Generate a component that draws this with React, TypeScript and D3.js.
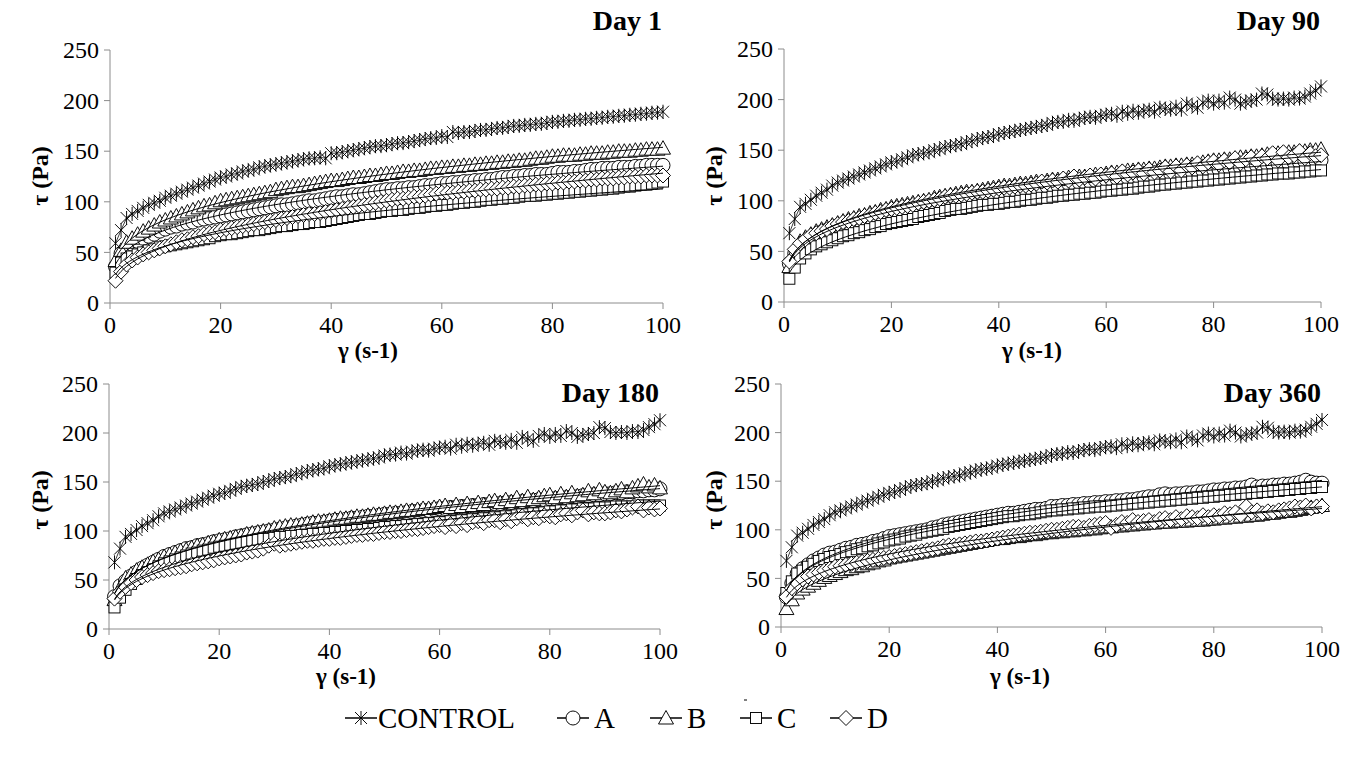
import React from 'react';
import * as d3 from 'd3';

// ---------------- DATA ----------------
const shearRate = [
  1, 2, 3, 4, 5, 6, 7, 8, 9, 10, 11, 12, 13, 14, 15, 16, 17, 18, 19, 20,
  21, 22, 23, 24, 25, 26, 27, 28, 29, 30, 31, 32, 33, 34, 35, 36, 37, 38, 39, 40,
  41, 42, 43, 44, 45, 46, 47, 48, 49, 50, 51, 52, 53, 54, 55, 56, 57, 58, 59, 60,
  61, 62, 63, 64, 65, 66, 67, 68, 69, 70, 71, 72, 73, 74, 75, 76, 77, 78, 79, 80,
  81, 82, 83, 84, 85, 86, 87, 88, 89, 90, 91, 92, 93, 94, 95, 96, 97, 98, 99, 100,
];

const seriesNames = ['CONTROL', 'A', 'B', 'C', 'D'];
const panelTitles = ['Day 1', 'Day 90', 'Day 180', 'Day 360'];
const yTicks = [0, 50, 100, 150, 200, 250];
const xTicks = [0, 20, 40, 60, 80, 100];
const xAxisTitle = 'γ (s-1)';
const yAxisTitle = 'τ (Pa)';

// Day 1
const day1Control = [
  59, 72, 84, 88, 91, 94, 97, 99, 101, 104,
  106, 108, 110, 112, 114, 116, 118, 120, 122, 124,
  125, 127, 128, 130, 131, 132, 134, 135, 136, 137,
  138, 139, 140, 141, 142, 143, 143, 144, 143, 148,
  148, 149, 150, 151, 152, 153, 154, 155, 155, 156,
  157, 158, 158, 159, 160, 161, 162, 163, 163, 165,
  164, 169, 168, 169, 169, 170, 171, 171, 172, 173,
  173, 174, 175, 175, 176, 176, 177, 177, 178, 179,
  179, 180, 180, 181, 181, 182, 182, 183, 183, 184,
  184, 185, 185, 186, 186, 187, 187, 188, 188, 189,
];
const day1A = [
  36, 49, 54, 58, 61, 64, 66, 68, 71, 73,
  75, 76, 78, 79, 80, 82, 83, 84, 85, 86,
  87, 88, 89, 90, 91, 92, 93, 94, 95, 96,
  97, 97, 98, 99, 100, 101, 101, 102, 103, 104,
  105, 105, 106, 107, 107, 108, 109, 110, 111, 112,
  112, 113, 113, 114, 114, 115, 116, 116, 117, 118,
  118, 119, 119, 120, 120, 121, 121, 122, 122, 123,
  124, 124, 125, 125, 126, 126, 127, 127, 127, 128,
  129, 129, 129, 130, 130, 131, 132, 132, 133, 133,
  133, 134, 134, 134, 135, 135, 136, 136, 136, 136,
];
const day1B = [
  42, 52, 60, 64, 68, 71, 74, 77, 80, 82,
  84, 86, 88, 90, 92, 94, 96, 97, 99, 101,
  102, 103, 104, 105, 106, 107, 108, 109, 110, 112,
  113, 114, 115, 115, 116, 117, 118, 119, 120, 121,
  121, 122, 123, 124, 124, 125, 126, 126, 127, 128,
  128, 129, 130, 130, 131, 131, 132, 133, 133, 134,
  134, 135, 135, 136, 136, 137, 137, 138, 138, 139,
  139, 140, 140, 141, 141, 142, 143, 143, 144, 145,
  145, 146, 146, 146, 147, 147, 148, 148, 148, 149,
  149, 150, 150, 150, 151, 151, 152, 152, 152, 153,
];
const day1C = [
  30, 40, 44, 46, 48, 50, 52, 53, 55, 56,
  57, 58, 59, 60, 61, 62, 63, 64, 66, 67,
  68, 68, 69, 70, 71, 72, 72, 73, 74, 75,
  76, 76, 77, 78, 78, 79, 80, 80, 81, 82,
  83, 84, 85, 86, 87, 88, 88, 89, 90, 91,
  91, 92, 92, 93, 94, 94, 95, 96, 96, 97,
  97, 98, 99, 99, 100, 100, 101, 102, 102, 103,
  103, 104, 104, 105, 106, 106, 106, 107, 107, 108,
  108, 109, 109, 110, 110, 111, 111, 112, 112, 113,
  113, 114, 115, 115, 116, 117, 117, 118, 119, 120,
];
const day1D = [
  22, 31, 38, 42, 45, 48, 50, 52, 54, 56,
  58, 60, 62, 63, 65, 66, 68, 69, 70, 72,
  73, 74, 75, 76, 77, 78, 79, 80, 81, 82,
  83, 84, 85, 86, 87, 88, 88, 89, 90, 91,
  92, 93, 94, 95, 96, 97, 98, 99, 100, 101,
  102, 103, 103, 104, 105, 105, 106, 107, 108, 109,
  109, 109, 110, 110, 111, 111, 112, 112, 113, 113,
  114, 114, 115, 115, 116, 116, 117, 117, 118, 118,
  119, 119, 120, 120, 121, 121, 122, 122, 123, 123,
  123, 124, 124, 125, 125, 125, 126, 126, 126, 126,
];

// Control after storage (same curve in Day 90, 180 and 360)
const storedControl = [
  68, 82, 94, 97, 101, 105, 108, 111, 115, 118,
  120, 122, 124, 126, 128, 130, 132, 134, 136, 138,
  139, 141, 143, 145, 146, 147, 148, 150, 151, 153,
  154, 155, 156, 158, 159, 161, 162, 163, 164, 166,
  167, 168, 169, 170, 171, 172, 173, 174, 175, 177,
  178, 178, 180, 179, 181, 182, 183, 182, 184, 185,
  186, 184, 188, 186, 189, 187, 189, 190, 188, 192,
  191, 190, 193, 190, 196, 194, 192, 197, 199, 196,
  199, 197, 202, 200, 196, 198, 199, 200, 206, 205,
  201, 200, 201, 200, 202, 201, 203, 206, 209, 213,
];

// Day 90
const day90A = [
  38, 48, 54, 59, 63, 66, 69, 71, 73, 75,
  76, 78, 79, 81, 82, 84, 85, 86, 88, 89,
  90, 91, 92, 93, 94, 95, 96, 97, 98, 100,
  101, 101, 102, 103, 104, 105, 105, 106, 107, 108,
  109, 109, 110, 111, 111, 112, 113, 113, 114, 115,
  115, 116, 117, 117, 118, 118, 119, 120, 120, 121,
  121, 122, 122, 123, 123, 124, 124, 125, 125, 126,
  126, 127, 127, 128, 128, 129, 129, 130, 130, 131,
  131, 132, 132, 132, 133, 133, 134, 135, 135, 136,
  136, 137, 137, 137, 138, 138, 139, 139, 140, 140,
];
const day90B = [
  35, 50, 60, 64, 67, 70, 72, 74, 76, 78,
  80, 82, 83, 85, 86, 88, 89, 91, 92, 94,
  95, 96, 97, 98, 99, 100, 101, 103, 104, 105,
  106, 107, 108, 109, 109, 110, 111, 112, 113, 114,
  115, 115, 116, 117, 117, 118, 119, 119, 120, 121,
  121, 122, 123, 123, 124, 124, 125, 126, 126, 127,
  128, 128, 129, 130, 130, 131, 131, 132, 132, 133,
  134, 134, 135, 135, 136, 136, 137, 138, 139, 140,
  140, 141, 141, 142, 143, 143, 144, 144, 145, 146,
  146, 147, 147, 148, 148, 149, 149, 150, 150, 151,
];
const day90C = [
  23, 34, 43, 48, 52, 55, 57, 59, 61, 63,
  65, 66, 68, 69, 71, 72, 74, 75, 77, 78,
  79, 80, 81, 82, 84, 85, 86, 87, 88, 90,
  91, 92, 92, 93, 94, 95, 96, 96, 97, 97,
  98, 99, 99, 100, 101, 101, 102, 103, 103, 104,
  105, 105, 106, 106, 107, 107, 108, 108, 109, 110,
  110, 111, 111, 112, 112, 113, 114, 114, 115, 116,
  116, 117, 117, 118, 118, 119, 119, 120, 120, 121,
  121, 122, 122, 123, 123, 124, 124, 125, 125, 126,
  126, 127, 127, 127, 128, 128, 129, 129, 130, 130,
];
const day90D = [
  40, 52, 58, 62, 66, 68, 70, 72, 75, 77,
  79, 80, 82, 83, 85, 86, 88, 89, 91, 92,
  93, 94, 95, 96, 98, 99, 100, 101, 102, 104,
  105, 105, 106, 107, 108, 109, 109, 110, 111, 112,
  113, 113, 114, 115, 115, 116, 117, 119, 118, 120,
  119, 122, 120, 124, 121, 123, 125, 122, 126, 125,
  127, 124, 129, 126, 128, 130, 127, 131, 128, 130,
  133, 129, 134, 130, 135, 133, 137, 134, 138, 139,
  136, 140, 138, 142, 137, 141, 143, 139, 144, 142,
  147, 140, 148, 143, 145, 149, 142, 147, 144, 145,
];

// Day 180
const day180A = [
  33, 44, 49, 54, 58, 62, 65, 68, 71, 74,
  76, 78, 80, 82, 83, 85, 86, 87, 89, 90,
  91, 92, 94, 95, 96, 97, 98, 99, 100, 101,
  102, 103, 104, 105, 106, 107, 108, 108, 109, 110,
  111, 111, 112, 113, 113, 114, 115, 115, 116, 117,
  117, 118, 118, 119, 120, 120, 121, 121, 122, 123,
  123, 124, 124, 125, 125, 126, 126, 127, 127, 128,
  128, 129, 129, 130, 130, 131, 131, 132, 132, 133,
  133, 134, 134, 135, 135, 136, 136, 137, 137, 138,
  138, 139, 139, 140, 140, 141, 141, 142, 142, 143,
];
const day180B = [
  30, 42, 52, 56, 60, 63, 66, 69, 71, 74,
  76, 78, 80, 81, 83, 85, 86, 88, 89, 91,
  92, 93, 94, 95, 97, 98, 99, 100, 101, 103,
  104, 105, 106, 106, 107, 108, 109, 110, 110, 111,
  112, 113, 113, 114, 115, 115, 116, 117, 117, 118,
  119, 119, 120, 121, 121, 122, 123, 123, 124, 125,
  126, 124, 127, 125, 128, 126, 129, 127, 130, 131,
  129, 132, 130, 134, 131, 135, 132, 134, 136, 137,
  134, 138, 135, 139, 136, 137, 141, 138, 142, 140,
  139, 141, 143, 140, 144, 146, 148, 145, 147, 144,
];
const day180C = [
  22, 32, 40, 46, 51, 55, 58, 61, 64, 67,
  69, 71, 73, 75, 77, 78, 80, 81, 83, 84,
  85, 86, 87, 88, 89, 90, 91, 92, 92, 93,
  94, 94, 95, 95, 96, 96, 97, 97, 98, 98,
  99, 99, 100, 100, 101, 101, 102, 102, 103, 104,
  104, 105, 105, 106, 106, 107, 107, 108, 108, 109,
  109, 110, 110, 111, 111, 112, 112, 113, 113, 114,
  114, 115, 115, 116, 117, 117, 118, 118, 119, 120,
  120, 121, 121, 122, 122, 123, 123, 123, 124, 124,
  124, 125, 125, 125, 125, 126, 126, 126, 126, 126,
];
const day180D = [
  31, 38, 43, 47, 50, 53, 55, 57, 59, 60,
  61, 62, 63, 64, 66, 67, 68, 69, 70, 72,
  73, 74, 75, 76, 78, 79, 80, 82, 85, 87,
  85, 86, 87, 88, 89, 90, 90, 91, 92, 92,
  93, 93, 94, 95, 96, 96, 97, 97, 98, 99,
  99, 100, 100, 101, 102, 102, 103, 104, 105, 106,
  104, 107, 105, 108, 106, 109, 110, 108, 111, 111,
  109, 112, 110, 113, 115, 112, 114, 113, 116, 115,
  114, 117, 118, 116, 119, 121, 117, 119, 118, 118,
  119, 121, 120, 122, 124, 125, 121, 124, 122, 123,
];

// Day 360
const day360A = [
  31, 45, 55, 60, 64, 68, 71, 74, 76, 77,
  79, 81, 82, 84, 85, 86, 88, 89, 91, 93,
  94, 95, 96, 97, 98, 99, 100, 102, 103, 105,
  106, 107, 108, 109, 110, 111, 112, 113, 114, 115,
  116, 117, 117, 118, 119, 120, 121, 121, 122, 124,
  124, 125, 125, 126, 126, 127, 127, 128, 128, 129,
  129, 130, 130, 131, 131, 132, 133, 134, 134, 136,
  137, 136, 137, 137, 138, 138, 139, 139, 140, 141,
  141, 142, 142, 143, 143, 144, 146, 144, 145, 145,
  146, 146, 147, 147, 148, 149, 151, 149, 148, 148,
];
const day360B = [
  19, 28, 35, 39, 42, 45, 48, 51, 53, 55,
  57, 59, 60, 62, 63, 65, 66, 68, 69, 71,
  72, 73, 74, 75, 76, 77, 78, 79, 80, 81,
  82, 83, 84, 85, 86, 87, 88, 89, 90, 91,
  91, 92, 93, 93, 94, 95, 95, 96, 97, 97,
  98, 98, 99, 99, 100, 100, 101, 101, 102, 103,
  103, 104, 104, 105, 105, 106, 106, 107, 107, 108,
  108, 108, 109, 109, 109, 110, 110, 110, 111, 111,
  112, 112, 113, 113, 114, 114, 115, 115, 116, 117,
  117, 118, 119, 119, 120, 121, 122, 123, 124, 125,
];
const day360C = [
  35, 47, 55, 58, 62, 65, 68, 70, 72, 73,
  75, 77, 78, 80, 81, 83, 84, 86, 87, 89,
  90, 91, 93, 94, 95, 97, 98, 99, 100, 101,
  103, 104, 105, 106, 107, 108, 109, 110, 111, 112,
  113, 114, 114, 115, 116, 116, 117, 118, 119, 120,
  120, 121, 121, 122, 122, 123, 123, 124, 124, 124,
  125, 125, 126, 126, 127, 127, 128, 128, 129, 129,
  130, 130, 131, 131, 132, 132, 133, 133, 134, 134,
  135, 135, 136, 136, 137, 137, 138, 138, 139, 139,
  140, 140, 141, 141, 142, 142, 143, 143, 144, 144,
];
const day360D = [
  31, 40, 45, 49, 52, 54, 56, 58, 60, 62,
  63, 64, 65, 66, 67, 68, 69, 70, 71, 72,
  73, 74, 75, 76, 77, 78, 79, 80, 81, 83,
  84, 84, 85, 86, 87, 88, 88, 89, 90, 91,
  92, 93, 94, 95, 96, 97, 97, 98, 99, 100,
  100, 101, 102, 103, 103, 102, 104, 105, 106, 107,
  102, 105, 108, 107, 110, 108, 109, 110, 108, 111,
  112, 110, 113, 111, 114, 113, 112, 115, 113, 115,
  114, 117, 116, 118, 115, 124, 118, 120, 117, 119,
  118, 120, 121, 122, 124, 123, 125, 122, 124, 124,
];

// ---------------- LAYOUT ----------------
const panelData = [
  [day1Control, day1A, day1B, day1C, day1D],
  [storedControl, day90A, day90B, day90C, day90D],
  [storedControl, day180A, day180B, day180C, day180D],
  [storedControl, day360A, day360B, day360C, day360D],
];

const panelLayout = [
  { left: 110, right: 663, top: 50, bottom: 303, titleY: 30, xTitleX: 368, xTitleY: 358, yTitleX: 48, yTitleY: 176 },
  { left: 784, right: 1321, top: 49, bottom: 302, titleY: 30, xTitleX: 1032, xTitleY: 358, yTitleX: 722, yTitleY: 176 },
  { left: 109, right: 660, top: 384, bottom: 629, titleY: 402, xTitleX: 346, xTitleY: 684, yTitleX: 48, yTitleY: 500 },
  { left: 781, right: 1322, top: 384, bottom: 627, titleY: 402, xTitleX: 1020, xTitleY: 684, yTitleX: 722, yTitleY: 500 },
];

const FONT = "'Liberation Serif', 'Times New Roman', 'DejaVu Serif', serif";
const AXIS_GREY = '#8c8c8c';
const markerTypes = ['star', 'circle', 'triangle', 'square', 'diamond'];

function Marker({ type, cx, cy }: { type: string; cx: number; cy: number }) {
  const sw = 0.95;
  if (type === 'star') {
    const s = 6;
    return (
      <g stroke="#000" strokeWidth={sw}>
        <line x1={cx - s} y1={cy - s} x2={cx + s} y2={cy + s} />
        <line x1={cx - s} y1={cy + s} x2={cx + s} y2={cy - s} />
        <line x1={cx} y1={cy - s - 1} x2={cx} y2={cy + s + 1} />
      </g>
    );
  }
  if (type === 'circle') {
    return <circle cx={cx} cy={cy} r={7} fill="#fff" stroke="#000" strokeWidth={sw} />;
  }
  if (type === 'triangle') {
    return (
      <path
        d={`M${cx},${cy - 7.5} L${cx + 7.5},${cy + 6} L${cx - 7.5},${cy + 6} Z`}
        fill="#fff"
        stroke="#000"
        strokeWidth={sw}
      />
    );
  }
  if (type === 'square') {
    return <rect x={cx - 5.5} y={cy - 5.5} width={11} height={11} fill="#fff" stroke="#000" strokeWidth={sw} />;
  }
  const d = 7.5;
  return (
    <path
      d={`M${cx},${cy - d} L${cx + d},${cy} L${cx},${cy + d} L${cx - d},${cy} Z`}
      fill="#fff"
      stroke="#000"
      strokeWidth={sw}
    />
  );
}

function powerFit(xs: number[], ys: number[]) {
  const lx = xs.map(Math.log);
  const ly = ys.map(Math.log);
  const mx = d3.mean(lx) as number;
  const my = d3.mean(ly) as number;
  let num = 0;
  let den = 0;
  for (let i = 0; i < lx.length; i++) {
    num += (lx[i] - mx) * (ly[i] - my);
    den += (lx[i] - mx) * (lx[i] - mx);
  }
  const b = num / den;
  const a = Math.exp(my - b * mx);
  return (x: number) => a * Math.pow(x, b);
}

const textStyle = { fontFamily: FONT };

function Panel({ idx }: { idx: number }) {
  const L = panelLayout[idx];
  const x = d3.scaleLinear().domain([0, 100]).range([L.left, L.right]);
  const y = d3.scaleLinear().domain([0, 250]).range([L.bottom, L.top]);
  const series = panelData[idx];
  const line = d3
    .line<number>()
    .x((_, i) => x(shearRate[i]))
    .y((v) => y(v));
  const fitXs = d3.range(shearRate[0], shearRate[shearRate.length - 1] + 0.001, 0.5);

  return (
    <g>
      {/* axes */}
      <line x1={L.left} y1={L.top} x2={L.left} y2={L.bottom} stroke={AXIS_GREY} strokeWidth={1} />
      <line x1={L.left} y1={L.bottom} x2={L.right} y2={L.bottom} stroke={AXIS_GREY} strokeWidth={1} />
      {yTicks.map((t) => (
        <g key={'yt' + t}>
          <line x1={L.left - 6} x2={L.left} y1={y(t)} y2={y(t)} stroke={AXIS_GREY} strokeWidth={1} />
          <text x={L.left - 11} y={y(t)} dy="0.34em" textAnchor="end" style={textStyle} fontSize={24} fill="#000">
            {t}
          </text>
        </g>
      ))}
      {xTicks.map((t) => (
        <g key={'xt' + t}>
          <line x1={x(t)} x2={x(t)} y1={L.bottom} y2={L.bottom + 6} stroke={AXIS_GREY} strokeWidth={1} />
          <text x={x(t)} y={L.bottom + 30} textAnchor="middle" style={textStyle} fontSize={24} fill="#000">
            {t}
          </text>
        </g>
      ))}
      {/* series */}
      {series.map((vals, si) => (
        <g key={'s' + si}>
          <path d={line(vals) || ''} fill="none" stroke="#000" strokeWidth={0.75} />
          {vals.map((v, i) => (
            <Marker key={i} type={markerTypes[si]} cx={x(shearRate[i])} cy={y(v)} />
          ))}
        </g>
      ))}
      {/* power trendlines for the samples */}
      {series.map((vals, si) => {
        if (si === 0) return null;
        const f = powerFit(shearRate, vals);
        const path = d3
          .line<number>()
          .x((xv) => x(xv))
          .y((xv) => y(f(xv)))(fitXs);
        return <path key={'fit' + si} d={path || ''} fill="none" stroke="#000" strokeWidth={1} />;
      })}
      {/* titles */}
      <text x={L.right - 1} y={L.titleY} textAnchor="end" style={textStyle} fontWeight="bold" fontSize={28} fill="#000">
        {panelTitles[idx]}
      </text>
      <text x={L.xTitleX} y={L.xTitleY} textAnchor="middle" style={textStyle} fontWeight="bold" fontSize={23} fill="#000">
        {xAxisTitle}
      </text>
      <text
        transform={`translate(${L.yTitleX},${L.yTitleY}) rotate(-90)`}
        textAnchor="middle"
        style={textStyle}
        fontWeight="bold"
        fontSize={24}
        fill="#000"
      >
        {yAxisTitle}
      </text>
    </g>
  );
}

const legendItems = [
  { lineX: 345, textX: 378 },
  { lineX: 557, textX: 594 },
  { lineX: 650, textX: 687 },
  { lineX: 740, textX: 777 },
  { lineX: 830, textX: 867 },
];

export default function App() {
  const legendY = 718;
  return (
    <svg
      width={1349}
      height={758}
      style={{ position: 'absolute', left: 0, top: 0, background: '#fff' }}
      xmlns="http://www.w3.org/2000/svg"
    >
      <rect x={0} y={0} width={1349} height={758} fill="#fff" />
      {panelTitles.map((_, i) => (
        <Panel key={i} idx={i} />
      ))}
      {/* legend */}
      {seriesNames.map((name, i) => {
        const it = legendItems[i];
        return (
          <g key={name}>
            <line x1={it.lineX} x2={it.lineX + 32} y1={legendY} y2={legendY} stroke="#000" strokeWidth={1.5} />
            <Marker type={markerTypes[i]} cx={it.lineX + 16} cy={legendY} />
            <text x={it.textX} y={legendY + 10} style={textStyle} fontSize={29} fill="#000">
              {name}
            </text>
          </g>
        );
      })}
      <line x1={744} x2={747} y1={700} y2={700} stroke="#000" strokeWidth={1} />
    </svg>
  );
}
